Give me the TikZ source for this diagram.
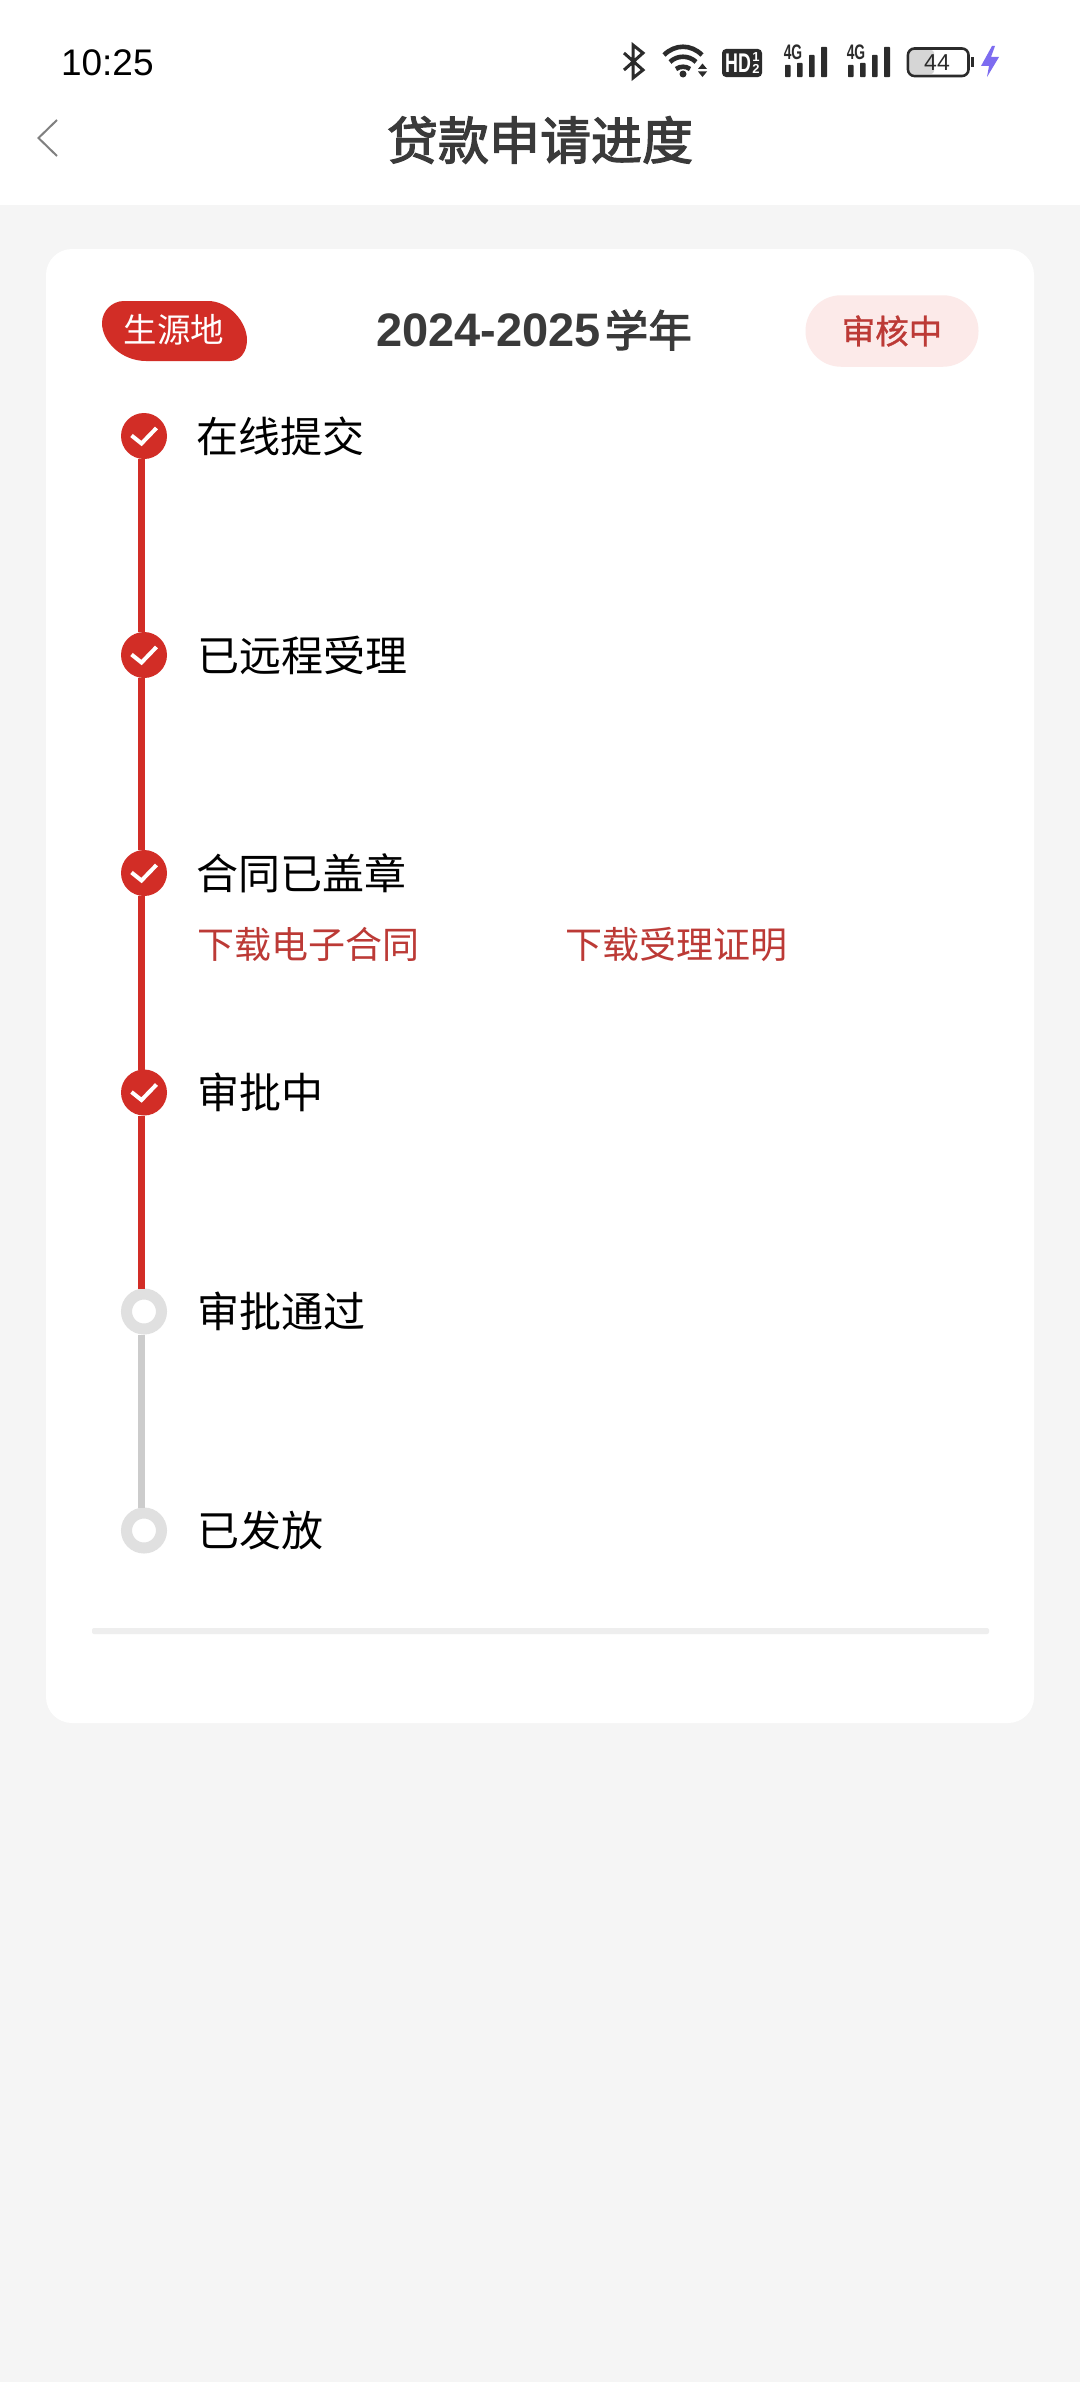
\documentclass[tikz,border=0pt]{standalone}
\usepackage{fontspec}
\setmainfont{Noto Sans CJK SC}
\newfontfamily\latinfont{Liberation Sans}
\newfontfamily\narrowfont[FakeStretch=0.66]{Liberation Sans}
\newfontfamily\medfont[FakeBold=2.5]{Noto Sans CJK SC}
\newfontfamily\semifont[FakeBold=1]{Noto Sans CJK SC}
\definecolor{pagebg}{HTML}{F5F5F5}
\definecolor{brandred}{HTML}{D22D26}
\definecolor{linkred}{HTML}{BC3A36}
\definecolor{pillbg}{HTML}{FCEAE9}
\definecolor{ringgrey}{HTML}{E0E0E0}
\definecolor{railgrey}{HTML}{CCCCCC}
\definecolor{divider}{HTML}{EEEEEE}
\definecolor{dark}{HTML}{2B2B2B}
\definecolor{titletext}{HTML}{3A3A3A}
\definecolor{bolt}{HTML}{7D6CF0}
\definecolor{battfill}{HTML}{D6D6D6}
\tikzset{
  txt/.style={inner sep=0pt,outer sep=0pt},
  steplabel/.style={txt,anchor=west,text=black,font=\fontsize{42}{42}\selectfont},
  linklabel/.style={txt,anchor=west,text=linkred,font=\fontsize{37}{37}\selectfont},
  donedot/.style={circle,fill=brandred,minimum size=46pt,inner sep=0pt,outer sep=0pt},
  tododot/.style={circle,fill=white,draw=ringgrey,line width=11pt,minimum size=35pt,inner sep=0pt},
  checkmark/.style={draw=white,line width=4pt,line cap=butt,line join=miter},
  redrail/.style={draw=brandred,line width=6.5pt},
  greyrail/.style={draw=railgrey,line width=7pt},
  signalbar/.style={fill=dark,rounded corners=0.6pt},
  wifiarc/.style={draw=dark,line width=4.6pt},
}
\begin{document}
\begin{tikzpicture}[x=1pt,y=-1pt]
\useasboundingbox (0,0) rectangle (1080,2382);
\fill[pagebg] (0,0) rectangle (1080,2382);
\fill[white] (0,0) rectangle (1080,205);
\fill[white,rounded corners=26pt] (46,249) rectangle (1034,1723);

% status bar
\node[txt,anchor=west,text=black,font=\latinfont\fontsize{37}{37}\selectfont] (clock) at (61,62.5) {10:25};
\draw[dark,line width=3pt,line join=miter] (624,53) -- (643,70) -- (633,78) -- (633,45) -- (643,53) -- (624,70);
\draw[wifiarc] (664,55) .. controls (675,44) and (691,44) .. (702,55);
\draw[wifiarc] (670,62) .. controls (677,55) and (689,55) .. (696,62);
\draw[wifiarc] (676,69) .. controls (680,66) and (686,66) .. (690,69);
\fill[dark] (683,74) circle (3.5pt);
\fill[dark] (698,69) -- (702.5,63.5) -- (707,69) -- cycle;
\fill[dark] (698,71.5) -- (702.5,77) -- (707,71.5) -- cycle;
\fill[dark,rounded corners=4pt] (722,49) rectangle (762,77);
\node[txt,text=white,font=\narrowfont\bfseries\fontsize{27}{27}\selectfont] (hd) at (738,63) {HD};
\node[txt,text=white,align=center,font=\latinfont\bfseries\fontsize{13}{12.5}\selectfont] (hdfrac) at (756,63) {1\\2};
\foreach \dx/\nm in {0/gone,63/gtwo}{
  \begin{scope}[xshift=\dx pt]
    \node[txt,text=dark,font=\narrowfont\bfseries\fontsize{21}{21}\selectfont] (\nm) at (793,52.5) {4G};
    \fill[signalbar] (785,65) rectangle (790.5,77);
    \fill[signalbar] (797,63) rectangle (802.5,77);
    \fill[signalbar] (809,55) rectangle (814.5,77);
    \fill[signalbar] (821,47) rectangle (827,77);
  \end{scope}
}
\fill[battfill,rounded corners=3pt] (910,50) rectangle (934,74);
\draw[dark,line width=2.6pt,rounded corners=6.5pt] (908,48.5) rectangle (968.5,76);
\fill[dark] (970.5,57) rectangle (973.5,67);
\node[txt,text=dark,font=\latinfont\fontsize{23}{23}\selectfont] (batt) at (937,63) {44};
\fill[bolt] (992,46) -- (981,66) -- (989,66) -- (987,77) -- (999,57) -- (991,57) -- (995,46) -- cycle;

% header
\draw[gray,line width=2pt] (57,120) -- (38.5,138) -- (57,156);
\node[txt,text=titletext,font=\medfont\fontsize{51}{51}\selectfont] (title) at (540,140) {贷款申请进度};

% card head
\fill[brandred] (124,301) -- (208,301) .. controls (229,301) and (247,322) .. (247,340)
  .. controls (247,352) and (240,361) .. (230,361) -- (146,361)
  .. controls (122,361) and (102,342) .. (102,323) .. controls (102,311) and (112,301) .. (124,301) -- cycle;
\node[txt,text=white,font=\fontsize{33.5}{33.5}\selectfont] (srcbadge) at (174,330) {生源地};
\node[txt,anchor=west,text=titletext,font=\medfont\fontsize{43.5}{44}\selectfont] (year) at (376,330) {{\latinfont\bfseries\fontsize{47}{47}\selectfont 2024-2025}\kern4pt 学年};
\node[fill=pillbg,rounded corners=35.5pt,minimum width=173pt,minimum height=71.5pt,inner sep=0pt,outer sep=0pt] (pill) at (892,331) {};
\node[txt,text=linkred,font=\semifont\fontsize{33.5}{33.5}\selectfont] (pilltext) at (pill.center) {审核中};

% timeline
\node[donedot] (c1) at (144,436) {};
\node[donedot] (c2) at (144,655) {};
\node[donedot] (c3) at (144,873) {};
\node[donedot] (c4) at (144,1092.5) {};
\node[tododot] (c5) at (144,1311.5) {};
\node[tododot] (c6) at (144,1530.5) {};
\foreach \a/\b in {c1/c2,c2/c3,c3/c4,c4/c5}
  \draw[redrail] ([xshift=-2.5pt]\a.south) -- ([xshift=-2.5pt]\b.north);
\draw[greyrail] ([xshift=-2.5pt]c5.south) -- ([xshift=-2.5pt]c6.north);
\foreach \c in {c1,c2,c3,c4}
  \draw[checkmark] ([shift={(-12.5,-0.5)}]\c.center) -- ([shift={(-2.5,7.5)}]\c.center) -- ([shift={(12.5,-8)}]\c.center);

\node[steplabel] (s1) at (196,436) {在线提交};
\node[steplabel] (s2) at (197,655) {已远程受理};
\node[steplabel] (s3) at (196.5,873) {合同已盖章};
\node[steplabel] (s4) at (197,1092.5) {审批中};
\node[steplabel] (s5) at (197,1311.5) {审批通过};
\node[steplabel] (s6) at (197,1530.5) {已发放};
\node[linklabel] (l1) at (197,944) {下载电子合同};
\node[linklabel] (l2) at (565,944) {下载受理证明};

\fill[divider,rounded corners=2pt] (92,1628) rectangle (989,1634);
\end{tikzpicture}
\end{document}
